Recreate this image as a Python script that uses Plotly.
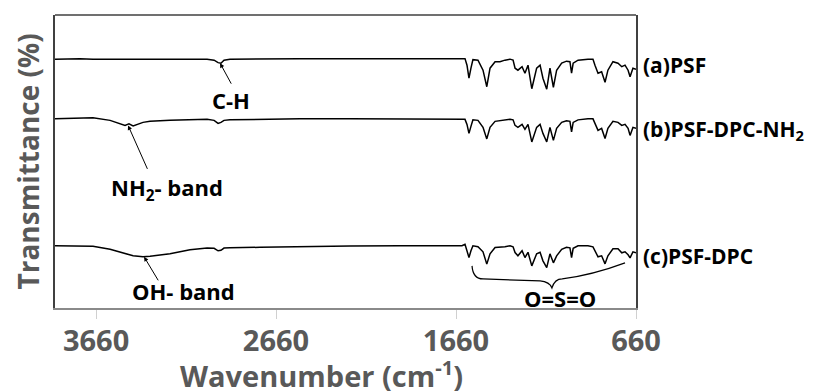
import plotly.graph_objects as go

# Wavenumber grid (cm^-1)
wavenumber = [3888, 3749, 3677, 3582, 3527, 3499, 3477, 3454, 3399, 3360, 3249, 3138,
              3043, 3004, 2982, 2966, 2949, 2916, 2749, 2527, 2249, 1971, 1749, 1627,
              1610, 1599, 1588, 1577, 1566, 1538, 1510, 1489, 1471, 1443, 1416, 1388,
              1360, 1343, 1332, 1316, 1293, 1277, 1260, 1239, 1212, 1193, 1177, 1156,
              1138, 1119, 1101, 1073, 1046, 1027, 1018, 1009, 982, 927, 899, 888,
              871, 851, 832, 816, 788, 760, 739, 721, 704, 693, 677, 660]

# Offset transmittance (arbitrary units)
psf = [248, 248.5, 248, 248, 248, 248, 248, 248, 248, 248.3, 248.5, 248.5,
       248, 247, 244.5, 244, 247, 248, 248.5, 248.5, 248.3, 248.5, 248.5, 248.5,
       248.5, 242, 229, 239, 247.5, 247, 237, 220.5, 239, 245.3, 245.5, 247,
       248, 247, 239, 237, 240.5, 234, 242, 218.5, 239, 242, 229, 218,
       239, 220, 237, 244, 246, 245.5, 234, 244, 247, 248, 248, 242,
       234, 235.5, 225, 237, 245.5, 244, 240.5, 242, 237, 230.5, 239, 238]

psf_dpc_nh2 = [188.5, 189, 189.5, 187, 184, 182, 183.5, 181.5, 185, 186, 187, 187.5,
               188, 187, 184, 185, 187, 187.5, 188, 188.5, 188.5, 188.5, 188.5, 188.5,
               188, 183, 174, 181, 187.5, 187, 180, 168.5, 180, 186, 186.5, 187.5,
               188, 187.5, 182, 180, 183, 178, 183, 165.5, 180, 183, 174, 165.5,
               180, 167, 179, 185, 186.5, 186, 175.5, 185, 187.5, 188.5, 188.5, 184,
               177, 179, 169, 179, 186, 185, 182, 183, 179, 172, 180, 179]

psf_dpc = [62, 62, 61.5, 58.5, 55.5, 54, 53, 52, 51, 51.5, 54, 58,
           59.7, 59.5, 57, 57.5, 59.7, 60, 60.5, 61.3, 61.7, 62, 62, 62,
           63.5, 58, 50.3, 57, 62, 61, 56, 43.7, 54, 60.3, 60.5, 61,
           62, 61, 55.3, 52, 57, 50.3, 55.5, 42, 54, 55.5, 47, 40.3,
           54, 45, 52, 58.5, 60.5, 60, 50.3, 59.5, 62, 62, 61, 57,
           51, 52, 44, 52, 59, 59, 55, 56, 53, 50, 56, 55]

tick_vals = [3660, 2660, 1660, 660]
tick_text = ["3660", "2660", "1660", "660"]

series_names = ["(a)PSF", "(b)PSF-DPC-NH<sub>2</sub>", "(c)PSF-DPC"]
series_values = [psf, psf_dpc_nh2, psf_dpc]
label_levels = [242, 177, 52]

fig = go.Figure()
for name, vals in zip(series_names, series_values):
    fig.add_trace(go.Scatter(x=wavenumber, y=vals, mode="lines", name=name,
                             line=dict(color="black", width=1.5), showlegend=False))

FONT = "Open Sans"
gray = "#595959"

annotations = []
for name, lvl in zip(series_names, label_levels):
    annotations.append(dict(x=1, xref="paper", y=lvl, yref="y", text="<b>%s</b>" % name,
                            showarrow=False, xanchor="left", yanchor="middle", xshift=5,
                            font=dict(family=FONT, size=21, color="black")))

# band labels (text) and arrows (arrow only)
band_labels = [
    ("C-H", 2910, 207),
    ("NH<sub>2</sub>- band", 3265, 119),
    ("OH- band", 3172, 17),
    ("O=S=O", 1085, 10),
]
for txt, bx, by in band_labels:
    annotations.append(dict(x=bx, y=by, xref="x", yref="y", text="<b>%s</b>" % txt,
                            showarrow=False, font=dict(family=FONT, size=22, color="black")))
arrows = [(2971, 244, 12, 22), (3482, 182, 20, 45), (3393, 51, 15, 25)]
for x0, y0, axo, ayo in arrows:
    annotations.append(dict(x=x0, y=y0, xref="x", yref="y", text="", showarrow=True,
                            ax=axo, ay=ayo, arrowhead=2, arrowsize=0.9, arrowwidth=1,
                            arrowcolor="black"))

PL, PR, PT, PB = 55, 636, 15, 308
annotations.append(dict(x=(321 - PL) / (PR - PL), y=-(374 - PB) / (PB - PT),
                        xref="paper", yref="paper",
                        text="<b>Wavenumber (cm<sup>-1</sup>)</b>", showarrow=False,
                        xanchor="center", yanchor="middle",
                        font=dict(family=FONT, size=29, color=gray)))
annotations.append(dict(x=-(PL - 27) / (PR - PL), y=0.5, xref="paper", yref="paper",
                        text="<b>Transmittance (%)</b>", showarrow=False, textangle=-90,
                        xanchor="center", yanchor="middle",
                        font=dict(family=FONT, size=28, color=gray)))

fig.update_layout(
    width=826, height=392,
    margin=dict(l=PL, r=826 - PR, t=PT, b=392 - PB),
    plot_bgcolor="white", paper_bgcolor="white",
    xaxis=dict(range=[3888, 660], tickvals=tick_vals, ticktext=tick_text,
               ticks="outside", ticklen=9, tickcolor="#d0d0d0", tickwidth=1,
               ticklabelstandoff=-3,
               showgrid=False, zeroline=False, showline=True, mirror=False,
               linecolor="#8a8a8a", linewidth=1.5,
               tickfont=dict(family=FONT, size=29, color=gray, weight="bold")),
    yaxis=dict(range=[0, 292], showticklabels=False, ticks="", showgrid=False,
               zeroline=False, showline=True, mirror=True, linecolor="#404040", linewidth=1.5),
    annotations=annotations,
)

fig.add_shape(type="line", xref="paper", yref="paper", x0=0, x1=1, y0=1, y1=1,
              line=dict(color="#404040", width=1.5))
fig.add_shape(type="path", xref="x", yref="y",
              path="M 1571,42 Q 1566,29 1510,29 L 1193,27 Q 1140,26 1127,20 Q 1112,29 1070,29 Q 900,33 721,45",
              line=dict(color="black", width=1.2))

fig.write_html("out.html")
